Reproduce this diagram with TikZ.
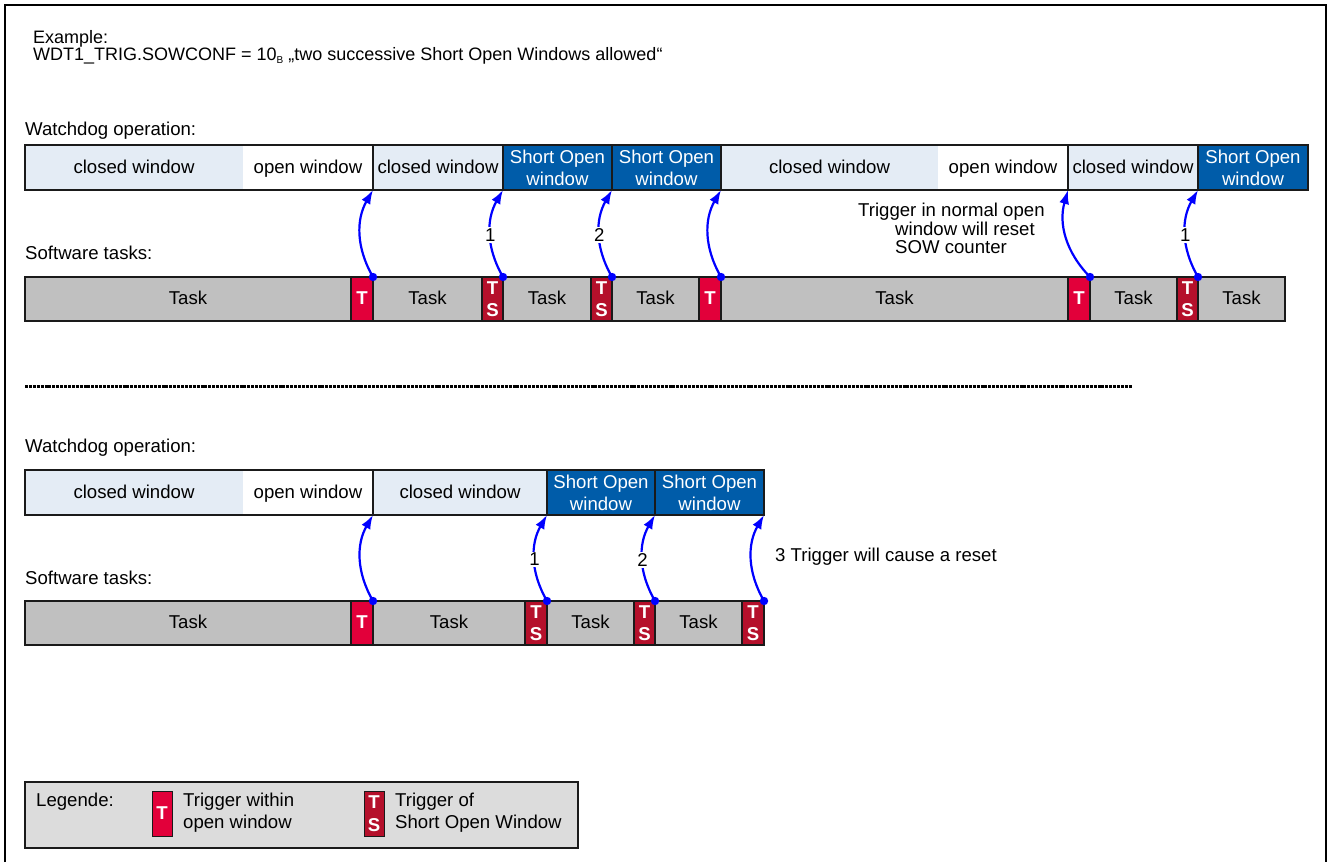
\documentclass[tikz,border=0pt]{standalone}
\usepackage{fontspec}
\setmainfont{Liberation Sans}
\usetikzlibrary{arrows.meta}
\definecolor{closedc}{HTML}{E4ECF5}
\definecolor{sowc}{HTML}{005CA9}
\definecolor{trigc}{HTML}{E2003A}
\definecolor{trigsc}{HTML}{B5102B}
\definecolor{taskc}{HTML}{C0C0C0}
\definecolor{legc}{HTML}{DCDCDC}
\definecolor{arrc}{HTML}{0000FF}
\definecolor{linec}{HTML}{1A1A1A}
\begin{document}
\begin{tikzpicture}[x=1pt,y=-1pt,
 every node/.style={font=\fontsize{18.6}{22}\selectfont},
 seg/.style={anchor=north west, inner sep=0pt, outer sep=0pt, align=center},
 one/.style={text height=15pt, text depth=3.2pt},
 bar/.style={seg, draw=linec, line width=1.3pt},
 cw/.style={seg, one, fill=closedc, minimum height=45pt},
 ow/.style={seg, one, fill=white, minimum height=45pt},
 cwb/.style={bar, one, fill=closedc, minimum height=45pt},
 sow/.style={bar, fill=sowc, text=white, minimum height=45pt},
 task/.style={bar, one, fill=taskc, minimum height=44pt},
 trig/.style={bar, fill=trigc, text=white, minimum height=44pt, minimum width=22pt, font=\fontsize{18.6}{22.5}\selectfont\bfseries},
 trigs/.style={bar, fill=trigsc, text=white, minimum height=44pt, minimum width=22pt, font=\fontsize{18.6}{22.5}\selectfont\bfseries},
 frame/.style={draw=linec, line width=1.3pt},
 lbl/.style={anchor=west, inner sep=0pt},
 arr/.style={draw=arrc, line width=2.2pt, -{Latex[length=14pt,width=10pt]}},
 dot/.style={fill=arrc},
 num/.style={midway, fill=white, inner sep=1.5pt, yshift=-1.5pt}
]
\useasboundingbox (0,0) rectangle (1329,862);
\draw[line width=1.1pt, draw=black] (5,862) -- (5,5) -- (1326,5) -- (1326,862);

% title
\node[anchor=west, align=left, inner sep=0pt, font=\fontsize{18}{17}\selectfont] (title) at (33,47)
 {Example:\\WDT1\_TRIG.SOWCONF = 10\raisebox{-3pt}{\fontsize{10}{10}\selectfont B} „two successive Short Open Windows allowed“};

% ---------- upper example ----------
\node[lbl] (wd1) at (25,131) {Watchdog operation:};
\node[cw, minimum width=218pt] (c1) at (25,145) {closed window};
\node[ow, minimum width=130pt] (o1) at (243,145) {open window};
\draw[frame] (c1.north west) rectangle (o1.south east);
\node[cwb, minimum width=130pt] (c2) at (373,145) {closed window};
\node[sow, minimum width=109pt] (s1) at (503,145) {Short Open\\window};
\node[sow, minimum width=109pt] (s2) at (612,145) {Short Open\\window};
\node[cw, minimum width=217pt] (c3) at (721,145) {closed window};
\node[ow, minimum width=130pt] (o2) at (938,145) {open window};
\draw[frame] (c3.north west) rectangle (o2.south east);
\node[cwb, minimum width=130pt] (c4) at (1068,145) {closed window};
\node[sow, minimum width=110pt] (s3) at (1198,145) {Short Open\\window};

\node[lbl] (sw1) at (25,253) {Software tasks:};
\node[task, minimum width=326pt] (k1) at (25,277) {Task};
\node[trig, one] (t1) at (351,277) {T};
\node[task, minimum width=109pt] (k2) at (373,277) {Task};
\node[trigs, minimum width=21pt] (ts1) at (482,277) {T\\S};
\node[task, minimum width=88pt] (k3) at (503,277) {Task};
\node[trigs, minimum width=21pt] (ts2) at (591,277) {T\\S};
\node[task, minimum width=87pt] (k4) at (612,277) {Task};
\node[trig, one] (t2) at (699,277) {T};
\node[task, minimum width=347pt] (k5) at (721,277) {Task};
\node[trig, one] (t3) at (1068,277) {T};
\node[task, minimum width=87pt] (k6) at (1090,277) {Task};
\node[trigs, minimum width=21pt] (ts3) at (1177,277) {T\\S};
\node[task, minimum width=87pt] (k7) at (1198,277) {Task};

\draw[arr] (t1.north east) to[bend left=30] (c2.south west);
\draw[arr] (ts1.north east) to[bend left=30] node[num] {1} (s1.south west);
\draw[arr] (ts2.north east) to[bend left=30] node[num] {2} (s2.south west);
\draw[arr] (t2.north east) to[bend left=30] (c3.south west);
\draw[arr] (t3.north east) to[bend left=30] (c4.south west);
\draw[arr] (ts3.north east) to[bend left=30] node[num] {1} (s3.south west);
\foreach \n in {t1,ts1,ts2,t2,t3,ts3} \fill[dot] (\n.north east) circle (4.2pt);

\node[anchor=north west, align=left, inner sep=0pt, font=\fontsize{18.6}{18.5}\selectfont] (note) at (858,203)
 {Trigger in normal open\\\hspace*{37pt}window will reset\\\hspace*{37pt}SOW counter};

% separator
\draw[draw=black, line width=3pt, dash pattern=on 3pt off 0.9pt] (25,386) -- (1132,386);

% ---------- lower example ----------
\node[lbl] (wd2) at (25,448) {Watchdog operation:};
\node[cw, minimum width=218pt] (c5) at (25,470) {closed window};
\node[ow, minimum width=130pt] (o3) at (243,470) {open window};
\draw[frame] (c5.north west) rectangle (o3.south east);
\node[cwb, minimum width=174pt] (c6) at (373,470) {closed window};
\node[sow, minimum width=108pt] (s4) at (547,470) {Short Open\\window};
\node[sow, minimum width=109pt] (s5) at (655,470) {Short Open\\window};

\node[lbl] (sw2) at (25,578) {Software tasks:};
\node[task, minimum width=326pt] (k8) at (25,601) {Task};
\node[trig, one] (t4) at (351,601) {T};
\node[task, minimum width=152pt] (k9) at (373,601) {Task};
\node[trigs] (ts4) at (525,601) {T\\S};
\node[task, minimum width=87pt] (k10) at (547,601) {Task};
\node[trigs, minimum width=21pt] (ts5) at (634,601) {T\\S};
\node[task, minimum width=87pt] (k11) at (655,601) {Task};
\node[trigs] (ts6) at (742,601) {T\\S};

\draw[arr] (t4.north east) to[bend left=30] (c6.south west);
\draw[arr] (ts4.north east) to[bend left=30] node[num] {1} (s4.south west);
\draw[arr] (ts5.north east) to[bend left=30] node[num] {2} (s5.south west);
\draw[arr] (ts6.north east) to[bend left=30] (s5.south east);
\foreach \n in {t4,ts4,ts5,ts6} \fill[dot] (\n.north east) circle (4.2pt);

\node[lbl] (reset) at (775,557) {3 Trigger will cause a reset};

% ---------- legend ----------
\node[bar, fill=legc, line width=1.2pt, minimum width=553pt, minimum height=66pt] (leg) at (25,782) {};
\node[lbl] (legt) at (36,802) {Legende:};
\node[trig, one, minimum width=20pt, minimum height=45pt, line width=0.8pt] (lt) at (152,791) {T};
\node[lbl, align=left] (ltx) at (183,813) {Trigger within\\open window};
\node[trigs, minimum width=20pt, minimum height=45pt, line width=0.8pt] (lts) at (364,791) {T\\S};
\node[lbl, align=left] (ltsx) at (395,813) {Trigger of\\Short Open Window};
\end{tikzpicture}
\end{document}
